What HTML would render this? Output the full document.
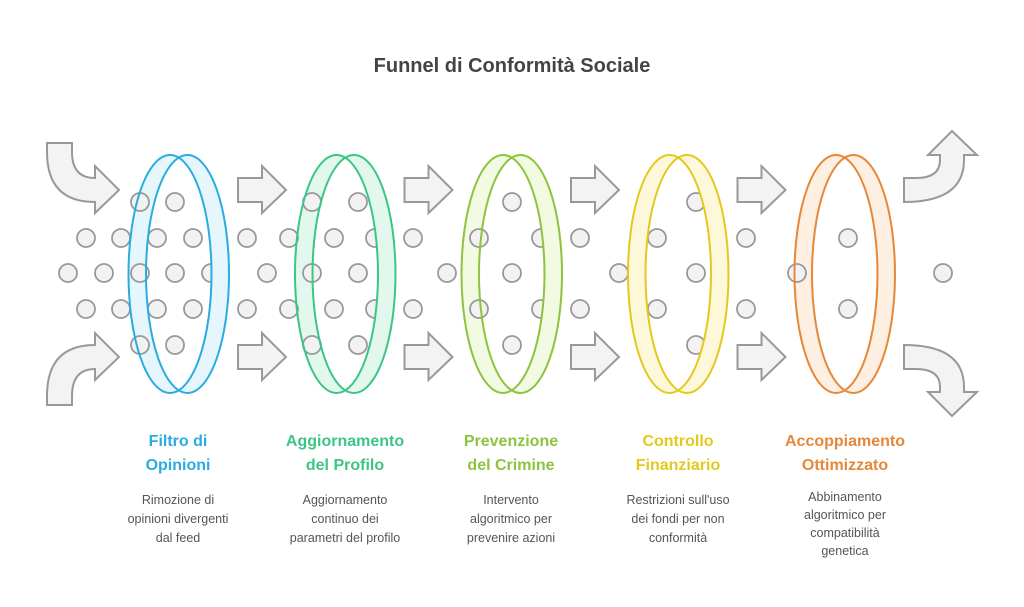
<!DOCTYPE html>
<html><head><meta charset="utf-8"><style>
html,body{margin:0;padding:0;background:#fff;}
svg{display:block;font-family:"Liberation Sans",sans-serif;}
</style></head><body>
<svg width="1024" height="607" viewBox="0 0 1024 607" xmlns="http://www.w3.org/2000/svg">
<defs>
<clipPath id="rc" clipPathUnits="userSpaceOnUse"><rect x="179" y="140" width="70" height="270"/></clipPath>
<path id="band" d="M128.5,274 a41.5,119 0 1,0 83,0 a41.5,119 0 1,0 -83,0Z M146,274 a41.5,119 0 1,0 83,0 a41.5,119 0 1,0 -83,0Z"/>
</defs>
<rect width="1024" height="607" fill="#fff"/>
<text x="512" y="72" text-anchor="middle" font-size="20" font-weight="bold" fill="#444">Funnel di Conformità Sociale</text>

<!-- arrows -->
<g fill="#f3f3f3" stroke="#999" stroke-width="2" stroke-linejoin="miter">
<path d="M47,143 L72,143 L72,152 Q72,178 95,178 L95,166 L119,190 L95,213 L95,202 Q47,202 47,152 Z"/>
<path d="M47,405 L72,405 L72,396 Q72,369 95,369 L95,380 L119,357 L95,333 L95,345 Q47,345 47,396 Z"/>
<path d="M904,178 L904,202 Q964,202 964,160 L964,155 L977,155 L952,131 L928,155 L940,155 L940,160 Q940,178 916,178 Z"/>
<path d="M904,369 L904,345 Q964,345 964,387 L964,392 L977,392 L952,416 L928,392 L940,392 L940,387 Q940,369 916,369 Z"/>
<g id="sa">
<path d="M238,178 L262,178 L262,166 L286,190 L262,213 L262,202 L238,202 Z"/>
<path d="M238,345 L262,345 L262,333 L286,357 L262,380 L262,369 L238,369 Z"/>
</g>
<use href="#sa" x="166.5"/><use href="#sa" x="333"/><use href="#sa" x="499.5"/>
</g>

<!-- back bands -->
<g fill-rule="evenodd">
<use href="#band" fill="#e5f6fd"/>
<use href="#band" x="166.5" fill="#e2f8ed"/>
<use href="#band" x="333" fill="#f2fae2"/>
<use href="#band" x="499.5" fill="#fdf8da"/>
<use href="#band" x="666" fill="#fdefe1"/>
</g>

<!-- dots -->
<g fill="#f2f2f2" stroke="#999" stroke-width="1.8">
<circle cx="140" cy="202" r="9"/><circle cx="175" cy="202" r="9"/>
<circle cx="86" cy="238" r="9"/><circle cx="121" cy="238" r="9"/><circle cx="157" cy="238" r="9"/><circle cx="193" cy="238" r="9"/>
<circle cx="68" cy="273" r="9"/><circle cx="104" cy="273" r="9"/><circle cx="140" cy="273" r="9"/><circle cx="175" cy="273" r="9"/><circle cx="211" cy="273" r="9"/>
<circle cx="86" cy="309" r="9"/><circle cx="121" cy="309" r="9"/><circle cx="157" cy="309" r="9"/><circle cx="193" cy="309" r="9"/>
<circle cx="140" cy="345" r="9"/><circle cx="175" cy="345" r="9"/>

<circle cx="247" cy="238" r="9"/><circle cx="247" cy="309" r="9"/><circle cx="267" cy="273" r="9"/>
<circle cx="312" cy="202" r="9"/><circle cx="358" cy="202" r="9"/>
<circle cx="289" cy="238" r="9"/><circle cx="334" cy="238" r="9"/><circle cx="375" cy="238" r="9"/>
<circle cx="312" cy="273" r="9"/><circle cx="358" cy="273" r="9"/>
<circle cx="289" cy="309" r="9"/><circle cx="334" cy="309" r="9"/><circle cx="375" cy="309" r="9"/>
<circle cx="312" cy="345" r="9"/><circle cx="358" cy="345" r="9"/>

<circle cx="413" cy="238" r="9"/><circle cx="413" cy="309" r="9"/><circle cx="447" cy="273" r="9"/>
<circle cx="479" cy="238" r="9"/><circle cx="479" cy="309" r="9"/>
<circle cx="512" cy="202" r="9"/><circle cx="512" cy="273" r="9"/><circle cx="512" cy="345" r="9"/>
<circle cx="541" cy="238" r="9"/><circle cx="541" cy="309" r="9"/>
<circle cx="580" cy="238" r="9"/><circle cx="580" cy="309" r="9"/><circle cx="619" cy="273" r="9"/>

<circle cx="657" cy="238" r="9"/><circle cx="657" cy="309" r="9"/>
<circle cx="696" cy="202" r="9"/><circle cx="696" cy="273" r="9"/><circle cx="696" cy="345" r="9"/>
<circle cx="746" cy="238" r="9"/><circle cx="746" cy="309" r="9"/>

<circle cx="797" cy="273" r="9"/><circle cx="848" cy="238" r="9"/><circle cx="848" cy="309" r="9"/>
<circle cx="943" cy="273" r="9"/>
</g>

<!-- front bands + outlines -->
<g fill-rule="evenodd" stroke-width="2">
<g><use href="#band" fill="#e5f6fd" clip-path="url(#rc)"/><use href="#band" fill="none" stroke="#2aace0"/></g>
<g transform="translate(166.5,0)"><use href="#band" fill="#e2f8ed" clip-path="url(#rc)"/><use href="#band" fill="none" stroke="#3cc585"/></g>
<g transform="translate(333,0)"><use href="#band" fill="#f2fae2" clip-path="url(#rc)"/><use href="#band" fill="none" stroke="#8cc33f"/></g>
<g transform="translate(499.5,0)"><use href="#band" fill="#fdf8da" clip-path="url(#rc)"/><use href="#band" fill="none" stroke="#e3c91d"/></g>
<g transform="translate(666,0)"><use href="#band" fill="#fdefe1" clip-path="url(#rc)"/><use href="#band" fill="none" stroke="#e5883a"/></g>
</g>

<!-- labels -->
<g font-size="16" font-weight="bold" text-anchor="middle">
<text x="178" y="446" fill="#2aace0">Filtro di</text><text x="178" y="470" fill="#2aace0">Opinioni</text>
<text x="345" y="446" fill="#3cc585">Aggiornamento</text><text x="345" y="470" fill="#3cc585">del Profilo</text>
<text x="511" y="446" fill="#8cc33f">Prevenzione</text><text x="511" y="470" fill="#8cc33f">del Crimine</text>
<text x="678" y="446" fill="#e3c91d">Controllo</text><text x="678" y="470" fill="#e3c91d">Finanziario</text>
<text x="845" y="446" fill="#e5883a">Accoppiamento</text><text x="845" y="470" fill="#e5883a">Ottimizzato</text>
</g>
<g font-size="12.5" fill="#555" text-anchor="middle">
<text x="178" y="504">Rimozione di</text><text x="178" y="523">opinioni divergenti</text><text x="178" y="542">dal feed</text>
<text x="345" y="504">Aggiornamento</text><text x="345" y="523">continuo dei</text><text x="345" y="542">parametri del profilo</text>
<text x="511" y="504">Intervento</text><text x="511" y="523">algoritmico per</text><text x="511" y="542">prevenire azioni</text>
<text x="678" y="504">Restrizioni sull'uso</text><text x="678" y="523">dei fondi per non</text><text x="678" y="542">conformità</text>
<text x="845" y="501">Abbinamento</text><text x="845" y="519">algoritmico per</text><text x="845" y="537">compatibilità</text><text x="845" y="555">genetica</text>
</g>
</svg>
</body></html>
